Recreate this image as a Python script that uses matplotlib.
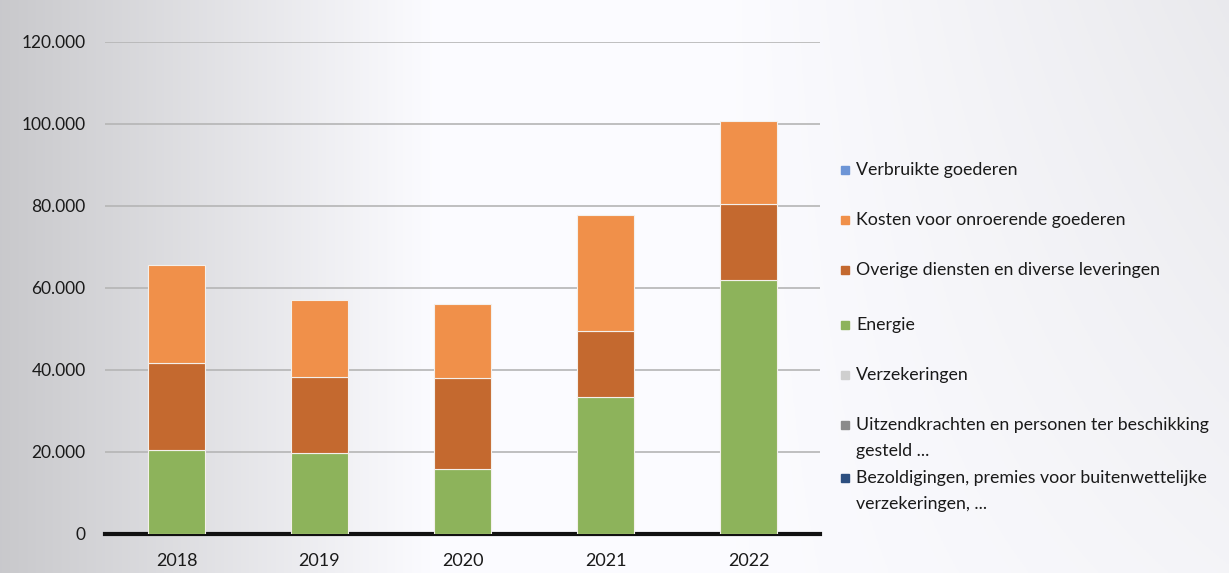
import numpy as np
import matplotlib
matplotlib.use("Agg")
import matplotlib.pyplot as plt
from matplotlib.patches import Rectangle

years = ["2018", "2019", "2020", "2021", "2022"]
energie = [20500, 19800, 15900, 33400, 62000]
overige = [21200, 18500, 22200, 16100, 18500]
onroerend = [23900, 18800, 18000, 28300, 20200]

legend_labels = [
    "Verbruikte goederen",
    "Kosten voor onroerende goederen",
    "Overige diensten en diverse leveringen",
    "Energie",
    "Verzekeringen",
    "Uitzendkrachten en personen ter beschikking\ngesteld ...",
    "Bezoldigingen, premies voor buitenwettelijke\nverzekeringen, ...",
]
legend_colors = ["#6d95d6", "#f0904a", "#c4692f", "#8db35b", "#cfcfcf", "#8a8a8a", "#2d4f80"]
legend_y = [170, 220, 270, 325, 375, 425, 478]

yticks = [0, 20000, 40000, 60000, 80000, 100000, 120000]
ytick_labels = ["0", "20.000", "40.000", "60.000", "80.000", "100.000", "120.000"]

plt.rcParams['font.family'] = ['Lato', 'DejaVu Sans']

W, H = 1229, 573
fig = plt.figure(figsize=(W / 100, H / 100), dpi=100)

# scanned background gradient
bg = fig.add_axes([0, 0, 1, 1], zorder=-10)
xs = np.linspace(0, 1, 400)
ys = np.linspace(0, 1, 200)
X, Y = np.meshgrid(xs, ys)
val = 0.80 + 0.20 * np.clip(X / 0.35, 0, 1)
val = val - 0.07 * np.clip((X - 0.6) / 0.4, 0, 1) * (1 - 0.6 * Y)
val = np.clip(val, 0, 1)
rgb = np.dstack([val * 0.985, val * 0.985, val])
bg.imshow(rgb, aspect='auto', extent=[0, 1, 0, 1], origin='upper')
bg.axis('off')

ax = fig.add_axes([105 / W, 1 - 534 / H, (820 - 105) / W, (534 - 42) / H])
ax.patch.set_alpha(0)
x = np.arange(len(years))
bw = 0.40
kw = dict(edgecolor="#f4f0ec", linewidth=0.8, zorder=3)
ax.bar(x, energie, bw, color="#8db35b", **kw)
ax.bar(x, overige, bw, bottom=energie, color="#c4692f", **kw)
b2 = np.array(energie) + np.array(overige)
ax.bar(x, onroerend, bw, bottom=b2, color="#f0904a", **kw)

ax.set_xlim(-0.5, len(years) - 0.5)
ax.set_ylim(0, 120000)
ax.set_yticks(yticks)
ax.set_yticklabels(ytick_labels, fontsize=12.5, color="#1a1a1a")
ax.set_xticks(x)
ax.set_xticklabels(years, fontsize=13, color="#1a1a1a")
ax.tick_params(axis='both', length=0)
ax.tick_params(axis='y', pad=14)
ax.tick_params(axis='x', pad=14)
for s in ['top', 'right', 'left']:
    ax.spines[s].set_visible(False)
ax.spines['bottom'].set_linewidth(3)
ax.spines['bottom'].set_color("#111111")
ax.yaxis.grid(True, color="#b5b5b5", linewidth=1.2, zorder=0)
ax.set_axisbelow(True)

# legend drawn manually
for lab, col, yy in zip(legend_labels, legend_colors, legend_y):
    fig.patches.append(Rectangle((841 / W, 1 - (yy + 4) / H), 8 / W, 8 / H,
                                 transform=fig.transFigure, color=col, figure=fig))
    for i, line in enumerate(lab.split('\n')):
        fig.text(856 / W, 1 - (yy + 26 * i) / H, line, fontsize=12.8, color="#1a1a1a",
                 va='center', ha='left')

fig.savefig("out.png", dpi=100)
